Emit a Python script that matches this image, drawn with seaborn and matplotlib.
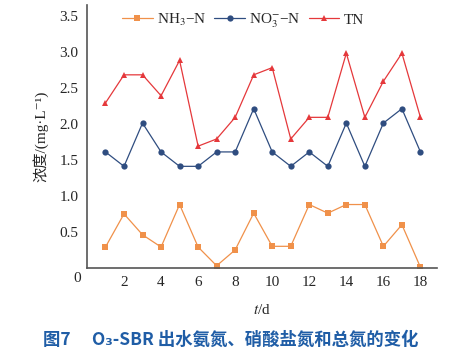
import numpy as np
import pandas as pd
import matplotlib
matplotlib.use("Agg")
import matplotlib.pyplot as plt
import matplotlib.transforms as mtransforms
import seaborn as sns

days = list(range(1, 19))
nh3_n = [0.29, 0.75, 0.46, 0.29, 0.88, 0.29, 0.03, 0.25, 0.76,
         0.30, 0.30, 0.88, 0.76, 0.88, 0.88, 0.30, 0.60, 0.01]
no3_n = [1.61, 1.41, 2.01, 1.61, 1.41, 1.41, 1.61, 1.61, 2.21,
         1.61, 1.41, 1.61, 1.41, 2.01, 1.41, 2.01, 2.21, 1.61]
tn = [2.29, 2.68, 2.68, 2.39, 2.88, 1.69, 1.79, 2.09, 2.68,
      2.78, 1.79, 2.09, 2.09, 2.98, 2.09, 2.59, 2.98, 2.09]
x_ticks = [2, 4, 6, 8, 10, 12, 14, 16, 18]
y_ticks = [0.5, 1.0, 1.5, 2.0, 2.5, 3.0, 3.5]

sns.set_style("white")
plt.rcParams['font.family'] = ['Liberation Serif', 'Noto Sans CJK SC', 'DejaVu Serif']
plt.rcParams['mathtext.fontset'] = 'stix'

fig = plt.figure(figsize=(4.65, 3.53), dpi=100)
ax = fig.add_axes([0.187, 0.241, 0.753, 0.745])

series = [
    ("NH$_3$−N", nh3_n, "#F0914A", "s"),
    ("NO$_3^{-}$−N", no3_n, "#2F4D80", "o"),
    ("TN", tn, "#E5383B", "^"),
]
for name, vals, col, mk in series:
    sns.lineplot(x=days, y=vals, ax=ax, color=col, marker=mk, markersize=4.5,
                 markeredgewidth=0, linewidth=0.9, label=name)

ax.set_xlim(0, 18.9)
ax.set_ylim(0, 3.65)
ax.set_xticks(x_ticks)
ax.set_yticks(y_ticks)
ax.set_yticklabels([f"{v:.1f}" for v in y_ticks])
ax.tick_params(length=0, labelsize=11, pad=6)
trans = mtransforms.blended_transform_factory(ax.transData, ax.transAxes)
ax.text(-0.3, -0.042, "0", transform=trans, ha="right", va="center", fontsize=11)

for s in ["top", "right"]:
    ax.spines[s].set_visible(False)
for s in ["left", "bottom"]:
    ax.spines[s].set_color("#555555")
    ax.spines[s].set_linewidth(1.2)

ax.set_xlabel("$t$/d", fontsize=11, labelpad=10)
ax.set_ylabel("浓度/(mg·L⁻¹)", fontsize=11, labelpad=8)

ax.legend(loc="upper left", bbox_to_anchor=(0.1, 0.975), ncol=3, frameon=False,
          fontsize=11, handlelength=2.0, handletextpad=0.3, columnspacing=0.5,
          borderaxespad=0, borderpad=0)

fig.text(0.497, 0.037, "图7　 O₃-SBR 出水氨氮、硝酸盐氮和总氮的变化", ha="center", va="center",
         fontsize=12.5, color="#1F5DA6", fontweight="bold",
         family=['Noto Sans CJK SC', 'DejaVu Sans'])

fig.savefig("out.png", dpi=100)
